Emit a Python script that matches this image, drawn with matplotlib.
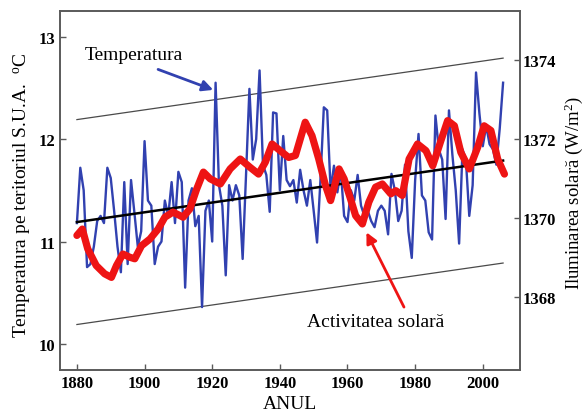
import matplotlib
matplotlib.use("Agg")
import matplotlib.pyplot as plt

plt.rcParams['font.family'] = ['Liberation Serif', 'DejaVu Serif']
plt.rcParams['mathtext.fontset'] = 'custom'
plt.rcParams['mathtext.rm'] = 'Liberation Serif'
plt.rcParams['mathtext.it'] = 'Liberation Serif:italic'
plt.rcParams['mathtext.bf'] = 'Liberation Serif:bold'

# Annual mean temperature over the U.S. territory (deg C)
years = list(range(1880, 2007))
temperature = [
    11.18, 11.72, 11.50, 10.75, 10.78, 10.95, 11.20, 11.25, 11.18, 11.72,
    11.62, 11.30, 10.95, 10.70, 11.58, 10.78, 11.60, 11.28, 10.95, 11.10,
    11.98, 11.40, 11.35, 10.78, 10.95, 11.00, 11.40, 11.25, 11.58, 11.18,
    11.68, 11.58, 10.55, 11.40, 11.52, 11.15, 11.25, 10.36, 11.30, 11.40,
    11.00, 12.55, 11.55, 11.35, 10.67, 11.55, 11.40, 11.55, 11.45, 10.83,
    11.65, 12.49, 11.80, 12.00, 12.67, 11.75, 11.65, 11.29, 12.26, 12.25,
    11.50, 12.03, 11.60, 11.54, 11.60, 11.38, 11.70, 11.50, 11.35, 11.60,
    11.30, 10.99, 11.60, 12.31, 12.28, 11.50, 11.74, 11.48, 11.70, 11.25,
    11.19, 11.50, 11.40, 11.65, 11.35, 11.25, 11.30, 11.20, 11.14, 11.30,
    11.35, 11.30, 11.07, 11.66, 11.50, 11.20, 11.30, 11.75, 11.10, 10.84,
    11.60, 12.05, 11.45, 11.40, 11.09, 11.02, 12.23, 11.90, 11.80, 11.22,
    12.28, 11.85, 11.50, 10.98, 11.90, 11.80, 11.25, 11.55, 12.65, 12.25,
    11.93, 12.13, 11.95, 11.90, 11.75, 12.10, 12.55,
]

# Smoothed total solar irradiance (W/m^2)
solar_years = [
    1880.0, 1881.6, 1883.2, 1885.7, 1888.2, 1890.2, 1891.7, 1893.6, 1895.6,
    1897.1, 1899.1, 1901.6, 1904.0, 1906.0, 1908.4, 1911.4, 1913.4, 1915.4,
    1917.4, 1919.4, 1922.4, 1925.3, 1928.3, 1931.2, 1933.7, 1935.7, 1937.7,
    1940.1, 1942.6, 1944.6, 1947.5, 1949.5, 1951.5, 1953.5, 1955.0, 1957.5,
    1959.0, 1960.9, 1962.4, 1964.4, 1966.3, 1968.3, 1970.3, 1972.8, 1974.3,
    1976.2, 1978.2, 1980.7, 1983.2, 1985.2, 1987.6, 1989.6, 1991.6, 1993.5,
    1996.0, 1998.5, 2000.4, 2002.4, 2004.4, 2006.4,
]
solar_irradiance = [
    1369.56, 1369.72, 1369.22, 1368.80, 1368.59, 1368.50, 1368.80, 1369.09, 1369.01,
    1368.97, 1369.30, 1369.47, 1369.72, 1370.02, 1370.15, 1370.02, 1370.23, 1370.73,
    1371.16, 1370.99, 1370.86, 1371.24, 1371.49, 1371.28, 1371.11, 1371.41, 1371.87,
    1371.70, 1371.53, 1371.58, 1372.42, 1372.08, 1371.49, 1370.82, 1370.44, 1371.24,
    1370.99, 1370.48, 1370.06, 1369.85, 1370.40, 1370.78, 1370.86, 1370.61, 1370.69,
    1370.57, 1371.49, 1371.87, 1371.70, 1371.32, 1371.95, 1372.46, 1372.33, 1371.66,
    1371.24, 1371.79, 1372.33, 1372.21, 1371.49, 1371.11,
]

# Linear temperature trend and the band around it
trend_years = [1880, 2006]
trend_temp = [11.19, 11.79]
band_upper = [12.19, 12.79]
band_lower = [10.19, 10.79]

x_ticks = [1880, 1900, 1920, 1940, 1960, 1980, 2000]
temp_ticks = [10, 11, 12, 13]
solar_ticks = [1368, 1370, 1372, 1374]

blue = '#3141b0'
red = '#ee1414'
spine_gray = '#5a5a5a'

fig = plt.figure(figsize=(5.86, 4.14), dpi=100)
ax = fig.add_axes([60 / 586, 1 - 371 / 414, 460 / 586, 359 / 414])
ax2 = ax.twinx()

ax.plot(trend_years, band_upper, color='#4a4a4a', lw=0.9)
ax.plot(trend_years, band_lower, color='#4a4a4a', lw=0.9)
ax.plot(years, temperature, color=blue, lw=1.7, zorder=3)
ax.plot(trend_years, trend_temp, color='black', lw=1.8, zorder=4)

ax2.plot(solar_years, solar_irradiance, color=red, lw=5.2,
         solid_capstyle='round', solid_joinstyle='round')

ax.set_xlim(1875, 2011)
ax.set_ylim(9.746, 13.25)
ax2.set_ylim(1366.16, 1375.23)

ax.set_xticks(x_ticks)
ax.set_yticks(temp_ticks)
ax2.set_yticks(solar_ticks)

for a in (ax, ax2):
    for s in a.spines.values():
        s.set_color(spine_gray)
        s.set_linewidth(1.2)
ax.tick_params(axis='both', direction='in', length=4, width=1, color=spine_gray,
               labelsize=12, pad=3.5)
ax2.tick_params(axis='y', direction='in', length=4, width=1, color=spine_gray,
                labelsize=12, pad=2)
for lab in ax.get_xticklabels() + ax.get_yticklabels() + ax2.get_yticklabels():
    lab.set_fontweight('bold')

# Annotations
ax.annotate('', xy=(1920.3, 12.48), xytext=(1904.0, 12.68),
            arrowprops=dict(arrowstyle='-|>', color=blue, lw=2.0,
                            mutation_scale=16, shrinkA=0, shrinkB=0), zorder=6)
ax.text(1882.3, 12.83, 'Temperatura', fontsize=14, ha='left', va='center', zorder=6)

ax.annotate('', xy=(1965.6, 11.09), xytext=(1976.7, 10.36),
            arrowprops=dict(arrowstyle='-|>', color=red, lw=2.0,
                            mutation_scale=16, shrinkA=0, shrinkB=0), zorder=6)
ax.text(1947.9, 10.22, 'Activitatea solară', fontsize=14, ha='left', va='center', zorder=6)

fig.text(22 / 586, 1 - 195.5 / 414,
         r'Temperatura pe teritoriul S.U.A.  $^{\mathrm{o}}$C',
         rotation=90, ha='center', va='center', fontsize=14)
fig.text(574 / 586, 1 - 193.5 / 414,
         r'Iluminarea solară (W/m$^{\mathrm{2}}$)',
         rotation=90, ha='center', va='center', fontsize=13.5)
fig.text(290 / 586, 1 - 405 / 414, 'ANUL', ha='center', va='center', fontsize=14)

fig.savefig('out.png', dpi=100)
